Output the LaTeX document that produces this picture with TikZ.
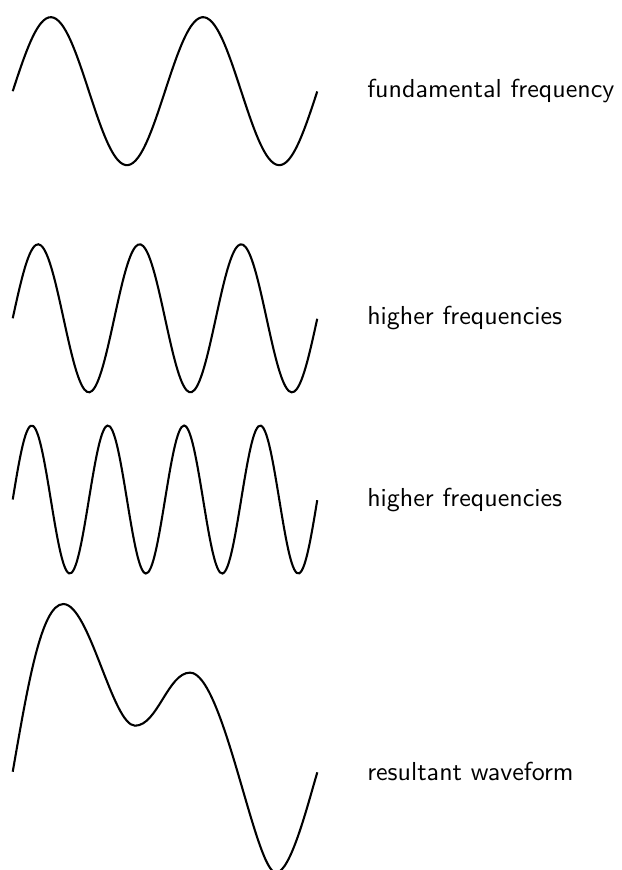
\documentclass[tikz,border=0pt]{standalone}
\begin{document}
\begin{tikzpicture}[
  wave/.style={thick, smooth, samples=120, domain=0:4.116},
  lab/.style={font=\sffamily, anchor=west, inner sep=0pt}
]
\useasboundingbox (-0.172,-10.524) rectangle (8.220,1.232);
\draw[wave] plot (\x, {sin(720*\x/4.116)});
\node[lab] (fund) at (4.784,0) {fundamental frequency};
\draw[wave] plot (\x, {-3.069+sin(1080*\x/4.116)});
\node[lab] (high1) at (4.784,-3.069) {higher frequencies};
\draw[wave] plot (\x, {-5.518+sin(1440*\x/4.116)});
\node[lab] (high2) at (4.784,-5.518) {higher frequencies};
% resultant: sum of the above, drawn by hand
\draw[thick] (0,-9.196) .. controls (0.20,-8.05) and (0.384,-6.93) .. (0.684,-6.93)
  .. controls (1.035,-6.93) and (1.349,-8.574) .. (1.653,-8.574)
  .. controls (1.955,-8.574) and (2.099,-7.857) .. (2.396,-7.857)
  .. controls (2.846,-7.857) and (3.278,-10.56) .. (3.558,-10.56)
  .. controls (3.758,-10.56) and (3.996,-9.60) .. (4.116,-9.204);
\node[lab] (result) at (4.784,-9.196) {resultant waveform};
\end{tikzpicture}
\end{document}
